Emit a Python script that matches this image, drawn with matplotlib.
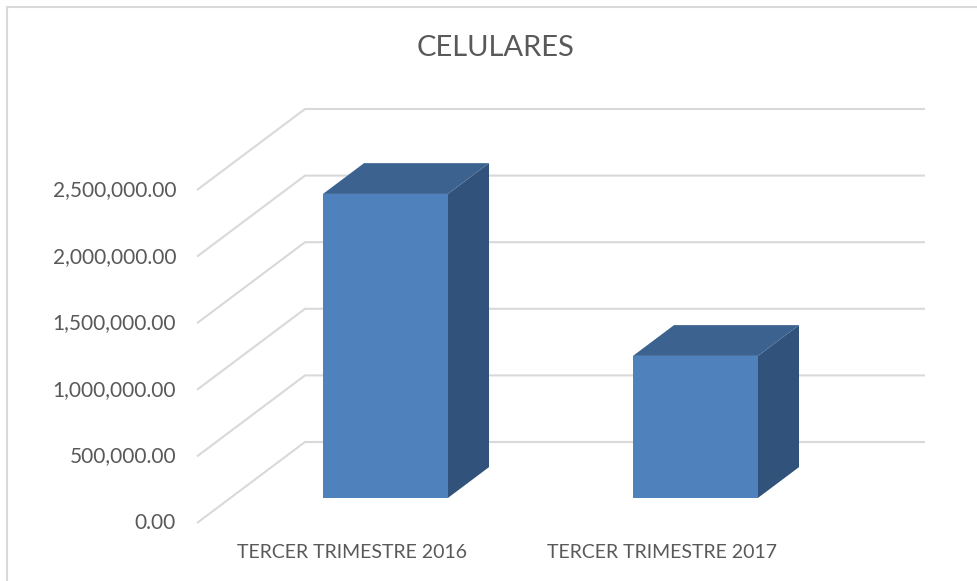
import matplotlib
matplotlib.use("Agg")
import matplotlib.pyplot as plt
from matplotlib.patches import Polygon, Rectangle

# Datos del gráfico
categorias = ["TERCER TRIMESTRE 2016", "TERCER TRIMESTRE 2017"]
valores = [2282000, 1066000]
ticks = [0, 500000, 1000000, 1500000, 2000000, 2500000]
titulo = "CELULARES"

# Colores estilo Excel
c_frente = "#4F81BD"
c_arriba = "#3C6290"
c_lado = "#31527A"
c_grid = "#D9D9D9"
c_texto = "#595959"

W, H = 977, 581
fig = plt.figure(figsize=(W / 100, H / 100), dpi=100)
plt.rcParams['font.family'] = ['Lato', 'DejaVu Sans']

# Plano frontal: x=0 -> px 197, 1 categoría = 310 px; y=0 -> px 523, 133.2 px por millón
px_x0, px_cat = 197, 310
px_y0, px_mill = 523, 133.2
ax = fig.add_axes([0, 0, 1, 1])
ax.set_xlim(-px_x0 / px_cat, (W - px_x0) / px_cat)
ax.set_ylim(-(H - px_y0) / px_mill * 1e6, px_y0 / px_mill * 1e6)
ax.axis("off")

# Profundidad (pared del fondo)
DX = 108 / px_cat
DY = 81 / px_mill * 1e6
d0, d1 = 0.31, 0.69
ancho = 125 / px_cat
n = len(categorias)

# Cuadrícula: diagonal en el lateral y horizontal en la pared del fondo
for t in ticks:
    ax.plot([0, DX, n + DX], [t, t + DY, t + DY], color=c_grid, lw=1.5,
            solid_capstyle="butt", zorder=1)
    ax.text(-21 / px_cat, t, f"{t:,.2f}", ha="right", va="center",
            fontsize=15, color=c_texto)

# Barras 3D
for i, v in enumerate(valores):
    ox, oy = DX * d0, DY * d0
    x0 = i + 0.5 - ancho / 2 + ox
    x1 = x0 + ancho
    bx, by = DX * (d1 - d0), DY * (d1 - d0)
    frente = [(x0, oy), (x1, oy), (x1, oy + v), (x0, oy + v)]
    arriba = [(x0, oy + v), (x1, oy + v), (x1 + bx, oy + v + by), (x0 + bx, oy + v + by)]
    lado = [(x1, oy), (x1 + bx, oy + by), (x1 + bx, oy + v + by), (x1, oy + v)]
    ax.add_patch(Polygon(lado, closed=True, fc=c_lado, ec="none", zorder=3))
    ax.add_patch(Polygon(arriba, closed=True, fc=c_arriba, ec="none", zorder=3))
    ax.add_patch(Polygon(frente, closed=True, fc=c_frente, ec="none", zorder=4))
    ax.text(i + 0.5, -(552 - px_y0) / px_mill * 1e6, categorias[i],
            ha="center", va="center", fontsize=14, color=c_texto)

fig.text(496 / W, 1 - 48 / H, titulo, ha="center", va="center",
         fontsize=21, color=c_texto)

# Borde del gráfico
fig.patches.append(Rectangle((7 / W, -0.1), 1.2, 1.1 - 7 / H, transform=fig.transFigure,
                             fill=False, ec=c_grid, lw=1.5))

fig.savefig("out.png", dpi=100, facecolor="white")
